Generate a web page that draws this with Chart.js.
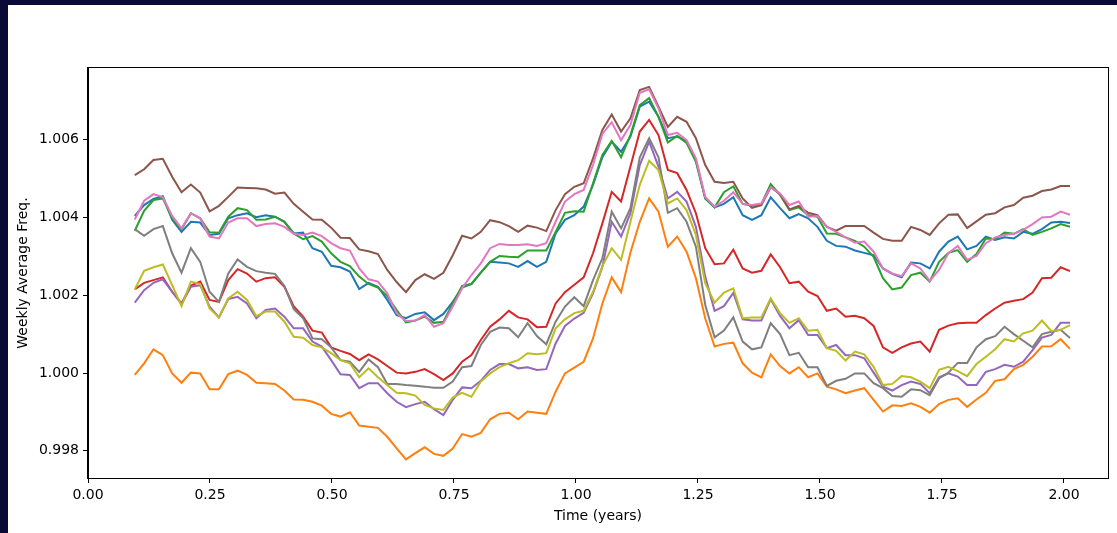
<!DOCTYPE html>
<html><head><meta charset="utf-8">
<script src="https://cdn.jsdelivr.net/npm/chart.js@4.4.1/dist/chart.umd.min.js"></script>
<style>html,body{margin:0;padding:0;background:#fff;overflow:hidden}canvas{display:block}</style>
</head><body>
<canvas id="c" width="1117" height="533"></canvas>
<script>
// ---- data ----
const firstWeek = 5;
const weeksPerYear = 365.25 / 7;
const xTickValues = [0.00, 0.25, 0.50, 0.75, 1.00, 1.25, 1.50, 1.75, 2.00];
const yTickValues = [0.998, 1.000, 1.002, 1.004, 1.006];
const xTitle = 'Time (years)';
const yTitle = 'Weekly Average Freq.';

const seriesBlue = [1.00404,1.00432,1.00448,1.00455,1.00394,1.00363,1.00389,1.00387,1.00355,1.00358,1.00398,1.00406,1.00411,1.00401,
1.00406,1.00402,1.00389,1.00359,1.00361,1.00321,1.00312,1.00276,1.00272,1.00261,1.00216,1.00232,1.00222,1.00188,1.00149,1.00141,1.00152,
1.00156,1.00136,1.00152,1.00183,1.00220,1.00229,1.00258,1.00286,1.00284,1.00282,1.00273,1.00288,1.00273,1.00286,1.00359,1.00394,1.00406,
1.00428,1.00484,1.00555,1.00595,1.00569,1.00608,1.00685,1.00698,1.00659,1.00604,1.00608,1.00597,1.00548,1.00449,1.00426,1.00435,1.00452,
1.00406,1.00394,1.00406,1.00452,1.00424,1.00398,1.00409,1.00398,1.00376,1.00340,1.00327,1.00325,1.00315,1.00309,1.00303,1.00269,1.00255,
1.00246,1.00284,1.00282,1.00269,1.00312,1.00338,1.00351,1.00318,1.00327,1.00351,1.00342,1.00349,1.00346,1.00363,1.00358,1.00370,1.00387,1.00389,1.00386];

const seriesOrange = [0.99995,1.00025,1.00061,1.00046,0.99999,0.99975,1.00001,0.99999,0.99958,0.99958,0.99997,1.00006,0.99995,0.99975,
0.99974,0.99972,0.99955,0.99932,0.99931,0.99926,0.99916,0.99895,0.99888,0.99899,0.99865,0.99862,0.99859,0.99836,0.99806,0.99778,0.99794,
0.99809,0.99792,0.99787,0.99806,0.99843,0.99836,0.99846,0.99881,0.99895,0.99898,0.99881,0.99901,0.99898,0.99895,0.99952,0.99999,1.00014,
1.00029,1.00089,1.00179,1.00246,1.00208,1.00310,1.00389,1.00449,1.00415,1.00325,1.00351,1.00312,1.00244,1.00140,1.00068,1.00075,1.00078,
1.00025,1.00001,0.99989,1.00048,1.00018,0.99999,1.00015,0.99989,0.99999,0.99965,0.99958,0.99948,0.99955,0.99961,0.99931,0.99901,0.99917,
0.99915,0.99922,0.99913,0.99898,0.99920,0.99931,0.99935,0.99913,0.99932,0.99949,0.99980,0.99984,1.00010,1.00021,1.00042,1.00068,1.00069,1.00087,1.00062];

const seriesGreen = [1.00366,1.00417,1.00445,1.00449,1.00398,1.00370,1.00411,1.00398,1.00362,1.00361,1.00402,1.00424,1.00419,1.00394,
1.00395,1.00402,1.00389,1.00359,1.00344,1.00352,1.00338,1.00308,1.00286,1.00275,1.00248,1.00229,1.00220,1.00198,1.00162,1.00130,1.00135,
1.00145,1.00129,1.00132,1.00179,1.00224,1.00229,1.00258,1.00286,1.00301,1.00299,1.00298,1.00315,1.00315,1.00315,1.00363,1.00412,1.00416,
1.00415,1.00488,1.00561,1.00597,1.00555,1.00612,1.00689,1.00707,1.00659,1.00593,1.00610,1.00592,1.00543,1.00449,1.00426,1.00465,1.00480,
1.00435,1.00430,1.00435,1.00486,1.00458,1.00419,1.00426,1.00406,1.00402,1.00359,1.00358,1.00349,1.00340,1.00325,1.00299,1.00244,1.00215,
1.00220,1.00252,1.00258,1.00235,1.00286,1.00309,1.00316,1.00286,1.00306,1.00346,1.00344,1.00361,1.00358,1.00370,1.00355,1.00363,1.00372,1.00383,1.00376];

const seriesRed = [1.00215,1.00232,1.00239,1.00246,1.00209,1.00179,1.00225,1.00235,1.00188,1.00183,1.00239,1.00267,1.00256,1.00235,
1.00244,1.00246,1.00222,1.00171,1.00145,1.00109,1.00104,1.00066,1.00057,1.00049,1.00033,1.00048,1.00035,1.00018,1.00001,0.99999,1.00003,
1.00010,0.99997,0.99982,0.99999,1.00029,1.00046,1.00085,1.00119,1.00138,1.00160,1.00143,1.00138,1.00118,1.00119,1.00179,1.00208,1.00227,
1.00246,1.00308,1.00385,1.00466,1.00441,1.00531,1.00621,1.00651,1.00612,1.00522,1.00514,1.00471,1.00411,1.00321,1.00280,1.00282,1.00317,
1.00269,1.00258,1.00263,1.00305,1.00272,1.00231,1.00235,1.00209,1.00198,1.00160,1.00166,1.00145,1.00147,1.00141,1.00121,1.00066,1.00052,
1.00066,1.00076,1.00081,1.00055,1.00111,1.00122,1.00128,1.00129,1.00129,1.00149,1.00166,1.00181,1.00186,1.00190,1.00207,1.00244,1.00245,1.00272,1.00262];

const seriesPurple = [1.00181,1.00213,1.00232,1.00241,1.00209,1.00177,1.00222,1.00226,1.00171,1.00143,1.00190,1.00196,1.00179,1.00141,
1.00162,1.00166,1.00145,1.00115,1.00115,1.00081,1.00068,1.00033,0.99997,0.99995,0.99961,0.99974,0.99974,0.99948,0.99926,0.99912,0.99920,
0.99926,0.99907,0.99892,0.99931,0.99963,0.99961,0.99980,1.00008,1.00023,1.00023,1.00012,1.00015,1.00008,1.00010,1.00076,1.00121,1.00140,
1.00155,1.00205,1.00273,1.00389,1.00351,1.00411,1.00535,1.00595,1.00531,1.00449,1.00466,1.00441,1.00376,1.00248,1.00160,1.00172,1.00206,
1.00138,1.00135,1.00135,1.00190,1.00147,1.00115,1.00136,1.00098,1.00098,1.00064,1.00072,1.00046,1.00046,1.00038,1.00001,0.99965,0.99955,
0.99969,0.99978,0.99972,0.99948,0.99989,0.99999,0.99991,0.99969,0.99969,1.00003,1.00010,1.00021,1.00016,1.00029,1.00059,1.00091,1.00098,1.00129,1.00129];

const seriesBrown = [1.00509,1.00524,1.00548,1.00551,1.00505,1.00465,1.00485,1.00464,1.00416,1.00430,1.00453,1.00477,1.00476,1.00475,
1.00472,1.00461,1.00464,1.00435,1.00415,1.00395,1.00394,1.00374,1.00348,1.00347,1.00318,1.00313,1.00306,1.00265,1.00234,1.00208,1.00239,
1.00254,1.00242,1.00258,1.00303,1.00353,1.00346,1.00363,1.00393,1.00388,1.00378,1.00363,1.00379,1.00374,1.00365,1.00419,1.00460,1.00479,
1.00488,1.00552,1.00625,1.00665,1.00621,1.00655,1.00728,1.00736,1.00685,1.00633,1.00659,1.00646,1.00604,1.00535,1.00492,1.00489,1.00492,
1.00449,1.00425,1.00432,1.00478,1.00460,1.00421,1.00430,1.00412,1.00406,1.00376,1.00366,1.00378,1.00378,1.00378,1.00361,1.00345,1.00340,
1.00340,1.00376,1.00368,1.00355,1.00385,1.00407,1.00408,1.00373,1.00390,1.00407,1.00411,1.00426,1.00432,1.00451,1.00456,1.00468,1.00472,1.00481,1.00481];

const seriesPink = [1.00395,1.00443,1.00460,1.00452,1.00404,1.00372,1.00411,1.00398,1.00351,1.00346,1.00387,1.00398,1.00398,1.00378,
1.00383,1.00385,1.00376,1.00358,1.00355,1.00361,1.00352,1.00334,1.00321,1.00315,1.00269,1.00241,1.00235,1.00205,1.00154,1.00134,1.00135,
1.00149,1.00119,1.00128,1.00171,1.00218,1.00252,1.00282,1.00321,1.00332,1.00329,1.00329,1.00331,1.00327,1.00334,1.00389,1.00441,1.00460,
1.00471,1.00535,1.00615,1.00645,1.00599,1.00638,1.00721,1.00730,1.00681,1.00612,1.00618,1.00599,1.00552,1.00453,1.00428,1.00443,1.00465,
1.00435,1.00432,1.00436,1.00478,1.00462,1.00432,1.00441,1.00402,1.00404,1.00376,1.00363,1.00349,1.00335,1.00338,1.00312,1.00269,1.00256,
1.00249,1.00282,1.00269,1.00237,1.00265,1.00308,1.00327,1.00291,1.00301,1.00334,1.00349,1.00355,1.00358,1.00368,1.00383,1.00400,1.00402,1.00415,1.00407];

const seriesGray = [1.00370,1.00353,1.00370,1.00378,1.00308,1.00258,1.00321,1.00286,1.00209,1.00183,1.00256,1.00292,1.00273,1.00262,
1.00258,1.00255,1.00224,1.00164,1.00141,1.00089,1.00087,1.00066,1.00033,1.00029,1.00003,1.00035,1.00015,0.99972,0.99972,0.99969,0.99967,
0.99965,0.99962,0.99962,0.99978,1.00015,1.00018,1.00072,1.00106,1.00117,1.00115,1.00092,1.00128,1.00095,1.00074,1.00132,1.00171,1.00195,
1.00172,1.00239,1.00295,1.00415,1.00372,1.00424,1.00555,1.00604,1.00555,1.00412,1.00424,1.00389,1.00325,1.00175,1.00092,1.00109,1.00143,
1.00081,1.00061,1.00066,1.00128,1.00100,1.00046,1.00052,1.00015,1.00015,0.99967,0.99980,0.99985,0.99999,0.99999,0.99974,0.99961,0.99941,
0.99939,0.99958,0.99956,0.99943,0.99986,1.00001,1.00026,1.00026,1.00066,1.00087,1.00095,1.00119,1.00100,1.00083,1.00066,1.00100,1.00106,1.00111,1.00090];

const seriesOlive = [1.00215,1.00263,1.00272,1.00279,1.00226,1.00172,1.00235,1.00229,1.00166,1.00143,1.00192,1.00209,1.00188,1.00146,
1.00158,1.00158,1.00132,1.00093,1.00091,1.00072,1.00066,1.00051,1.00033,1.00025,0.99989,1.00012,0.99989,0.99969,0.99949,0.99948,0.99942,
0.99918,0.99909,0.99905,0.99937,0.99949,0.99939,0.99978,0.99999,1.00015,1.00025,1.00033,1.00051,1.00048,1.00051,1.00115,1.00138,1.00154,
1.00160,1.00209,1.00275,1.00321,1.00291,1.00389,1.00484,1.00546,1.00522,1.00436,1.00449,1.00419,1.00355,1.00231,1.00181,1.00207,1.00218,
1.00141,1.00143,1.00143,1.00192,1.00154,1.00129,1.00141,1.00109,1.00111,1.00064,1.00057,1.00032,1.00055,1.00048,1.00016,0.99969,0.99972,
0.99992,0.99989,0.99978,0.99961,1.00008,1.00016,1.00005,0.99992,1.00023,1.00042,1.00061,1.00087,1.00081,1.00102,1.00109,1.00135,1.00108,1.00111,1.00123];

const seriesList = [
  {name: 'C0', values: seriesBlue,   color: '#1f77b4'},
  {name: 'C1', values: seriesOrange, color: '#ff7f0e'},
  {name: 'C2', values: seriesGreen,  color: '#2ca02c'},
  {name: 'C3', values: seriesRed,    color: '#d62728'},
  {name: 'C4', values: seriesPurple, color: '#9467bd'},
  {name: 'C5', values: seriesBrown,  color: '#8c564b'},
  {name: 'C6', values: seriesPink,   color: '#e377c2'},
  {name: 'C7', values: seriesGray,   color: '#7f7f7f'},
  {name: 'C8', values: seriesOlive,  color: '#bcbd22'}
];

const timeYears = seriesBlue.map((_, i) => (firstWeek + i) / weeksPerYear);

// ---- chart ----
const W = 1117, H = 533;
const FONT = 'DejaVu Sans';

const framePlugin = {
  id: 'frame',
  beforeDraw(chart) {
    const ctx = chart.ctx;
    ctx.save();
    ctx.fillStyle = '#ffffff';
    ctx.fillRect(0, 0, W, H);
    ctx.fillStyle = '#0b0935';
    ctx.fillRect(0, 0, W, 5);
    ctx.fillRect(0, 0, 8, H);
    ctx.restore();
  },
  afterDraw(chart) {
    const a = chart.chartArea, ctx = chart.ctx;
    ctx.save();
    ctx.strokeStyle = '#000';
    ctx.lineWidth = 1;
    ctx.strokeRect(Math.round(a.left) - 0.5, Math.round(a.top) - 0.5,
                   Math.round(a.right - a.left) + 1, Math.round(a.bottom - a.top) + 1);
    ctx.restore();
  }
};

const datasets = seriesList.map((s, k) => ({
  label: s.name,
  data: s.values.map((v, i) => ({x: timeYears[i], y: v})),
  borderColor: s.color,
  backgroundColor: s.color,
  borderWidth: 2,
  pointRadius: 0,
  tension: 0,
  fill: false,
  order: seriesList.length - k
}));

new Chart(document.getElementById('c'), {
  type: 'line',
  data: {datasets},
  plugins: [framePlugin],
  options: {
    responsive: false,
    animation: false,
    devicePixelRatio: 1,
    layout: {padding: {top: 68, right: 9, bottom: 0, left: 0}},
    plugins: {legend: {display: false}, tooltip: {enabled: false}},
    scales: {
      x: {
        type: 'linear',
        min: 0,
        max: 2.0902,
        afterBuildTicks: s => { s.ticks = xTickValues.map(v => ({value: v})); },
        afterFit: s => { s.height = 55; },
        grid: {display: true, drawOnChartArea: false, drawTicks: true, tickLength: 5, tickColor: '#000', lineWidth: 1},
        border: {display: true, color: '#000', width: 1},
        ticks: {color: '#000', font: {family: FONT, size: 14}, padding: 4, maxRotation: 0, autoSkip: false,
                callback: v => Number(v).toFixed(2)},
        title: {display: true, text: xTitle, color: '#000', font: {family: FONT, size: 14}, padding: {top: 0, bottom: 8}}
      },
      y: {
        type: 'linear',
        min: 0.9973,
        max: 1.007845,
        afterBuildTicks: s => { s.ticks = yTickValues.map(v => ({value: v})); },
        afterFit: s => { s.width = 88; },
        grid: {display: true, drawOnChartArea: false, drawTicks: true, tickLength: 5, tickColor: '#000', lineWidth: 1},
        border: {display: true, color: '#000', width: 1},
        ticks: {color: '#000', font: {family: FONT, size: 14}, padding: 4, autoSkip: false,
                callback: v => Number(v).toFixed(3)},
        title: {display: true, text: yTitle, color: '#000', font: {family: FONT, size: 14}, padding: {top: 15, bottom: 0}}
      }
    }
  }
});
</script>
</body></html>
